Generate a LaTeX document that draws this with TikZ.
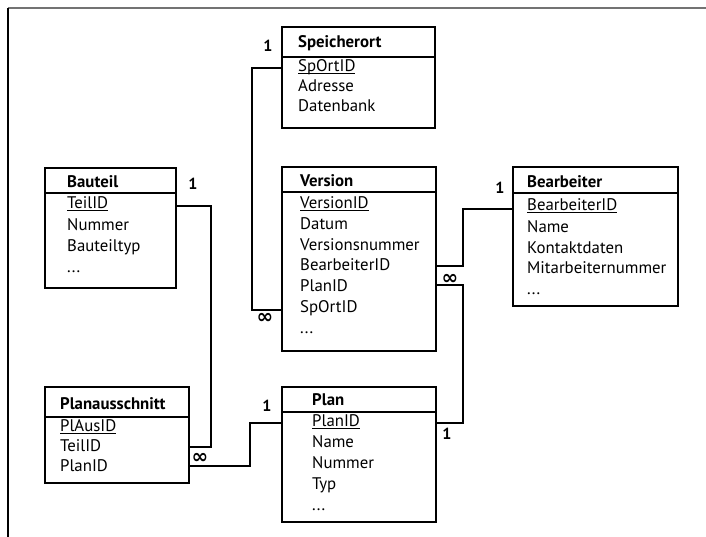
\documentclass[tikz,border=0pt]{standalone}
\usepackage{fontspec}
\setmainfont{PT Sans}
\newfontfamily\symf{DejaVu Sans}
\newsavebox{\keybox}
\newcommand{\keyfld}[1]{\sbox{\keybox}{#1}\rlap{\rule[-2.3pt]{\wd\keybox}{0.8pt}}\usebox{\keybox}}
\begin{document}
\begin{tikzpicture}[x=1pt,y=-1pt,
  ent/.style={draw, line width=1.2pt, anchor=north west, inner sep=0pt, outer sep=0pt},
  sepline/.style={line width=1.1pt},
  fld/.style={anchor=west, inner sep=0pt, font=\fontsize{16.8}{19}\selectfont, text height=12pt, text depth=3pt},
  ttl/.style={fld, font=\fontsize{16.8}{19}\selectfont\bfseries},
  one/.style={inner sep=0pt, font=\fontsize{16}{18}\selectfont\bfseries},
  many/.style={inner sep=0pt, font=\symf\fontsize{20}{22}\selectfont\bfseries},
  conn/.style={line width=1.1pt}]
\useasboundingbox (0,0) rectangle (706,537);
% frame
\draw[line width=1.6pt, black!55] (8,8) -- (706,8);
\draw[line width=1.1pt] (8,8) -- (8,537);

% Speicherort
\node[ent, minimum width=153pt, minimum height=101pt] (spo) at (282,27) {};
\draw[sepline] (282,57) -- (435,57);
\node[ttl] (spo-t) at (298,43) {Speicherort};
\node[fld] (spo-key) at (298,67) {\keyfld{SpOrtID}};
\node[fld] (spo-a) at (298,87) {Adresse};
\node[fld] (spo-d) at (298,107) {Datenbank};

% Version
\node[ent, minimum width=154pt, minimum height=184pt] (ver) at (282,167) {};
\draw[sepline] (282,192) -- (436,192);
\node[ttl] (ver-t) at (300,182) {Version};
\node[fld] (ver-key) at (300,204) {\keyfld{VersionID}};
\node[fld] (ver-dat) at (300,225) {Datum};
\node[fld] (ver-num) at (300,246) {Versionsnummer};
\node[fld] (ver-bear) at (300,266) {BearbeiterID};
\node[fld] (ver-plan) at (300,287) {PlanID};
\node[fld] (ver-sport) at (300,308) {SpOrtID};
\node[fld] (ver-etc) at (300,329) {...};

% Bauteil
\node[ent, minimum width=131pt, minimum height=120pt] (bau) at (45,168) {};
\draw[sepline] (45,193) -- (176,193);
\node[ttl] (bau-t) at (67,183) {Bauteil};
\node[fld] (bau-key) at (67,204) {\keyfld{TeilID}};
\node[fld] (bau-num) at (67,226) {Nummer};
\node[fld] (bau-typ) at (67,247) {Bauteiltyp};
\node[fld] (bau-etc) at (67,268) {...};

% Bearbeiter
\node[ent, minimum width=165pt, minimum height=139pt] (bea) at (513,167) {};
\draw[sepline] (513,193) -- (678,193);
\node[ttl] (bea-t) at (527,183) {Bearbeiter};
\node[fld] (bea-key) at (527,206) {\keyfld{BearbeiterID}};
\node[fld] (bea-name) at (527,228) {Name};
\node[fld] (bea-kon) at (527,249) {Kontaktdaten};
\node[fld] (bea-mit) at (527,269) {Mitarbeiternummer};
\node[fld] (bea-etc) at (527,290) {...};

% Planausschnitt
\node[ent, minimum width=144pt, minimum height=96pt] (pla) at (45,387) {};
\draw[sepline] (45,417) -- (189,417);
\node[ttl] (pla-t) at (60,405) {Planausschnitt};
\node[fld] (pla-key) at (60,427) {\keyfld{PlAusID}};
\node[fld] (pla-teil) at (60,447) {TeilID};
\node[fld] (pla-plan) at (60,467) {PlanID};

% Plan
\node[ent, minimum width=154pt, minimum height=135pt] (plan) at (282,387) {};
\draw[sepline] (282,412) -- (436,412);
\node[ttl] (plan-t) at (312,401) {Plan};
\node[fld] (plan-key) at (312,422) {\keyfld{PlanID}};
\node[fld] (plan-name) at (312,443) {Name};
\node[fld] (plan-num) at (312,464) {Nummer};
\node[fld] (plan-typ) at (312,485) {Typ};
\node[fld] (plan-etc) at (312,506) {...};

% connectors
\draw[conn] ([yshift=-1pt]spo.west |- spo-key) -- ++(-30,0) |- ([yshift=-2pt]ver.west |- ver-sport);
\draw[conn] ([yshift=-2pt]bau.east |- bau-key) -- ++(35,0) |- (pla.east |- pla-teil);
\draw[conn] ([yshift=1pt]pla.east |- pla-plan) -- ++(61,0) |- ([yshift=-1pt]plan.west |- plan-key);
\draw[conn] (ver.east |- ver-bear) -- ++(27,0) |- ([yshift=-3pt]bea.west |- bea-key);
\draw[conn] ([yshift=2pt]ver.east |- ver-plan) -- ++(27,0) |- ([yshift=-1pt]plan.east |- plan-key);

% cardinalities
\node[one] (c1) at (268,46) {1};
\node[many] (c2) at (265,318) {∞};
\node[one] (c3) at (193,184) {1};
\node[many] (c4) at (200,458) {∞};
\node[one] (c5) at (267,406) {1};
\node[one] (c6) at (500,188) {1};
\node[many] (c7) at (450,279) {∞};
\node[one] (c8) at (447,434) {1};
\end{tikzpicture}
\end{document}
